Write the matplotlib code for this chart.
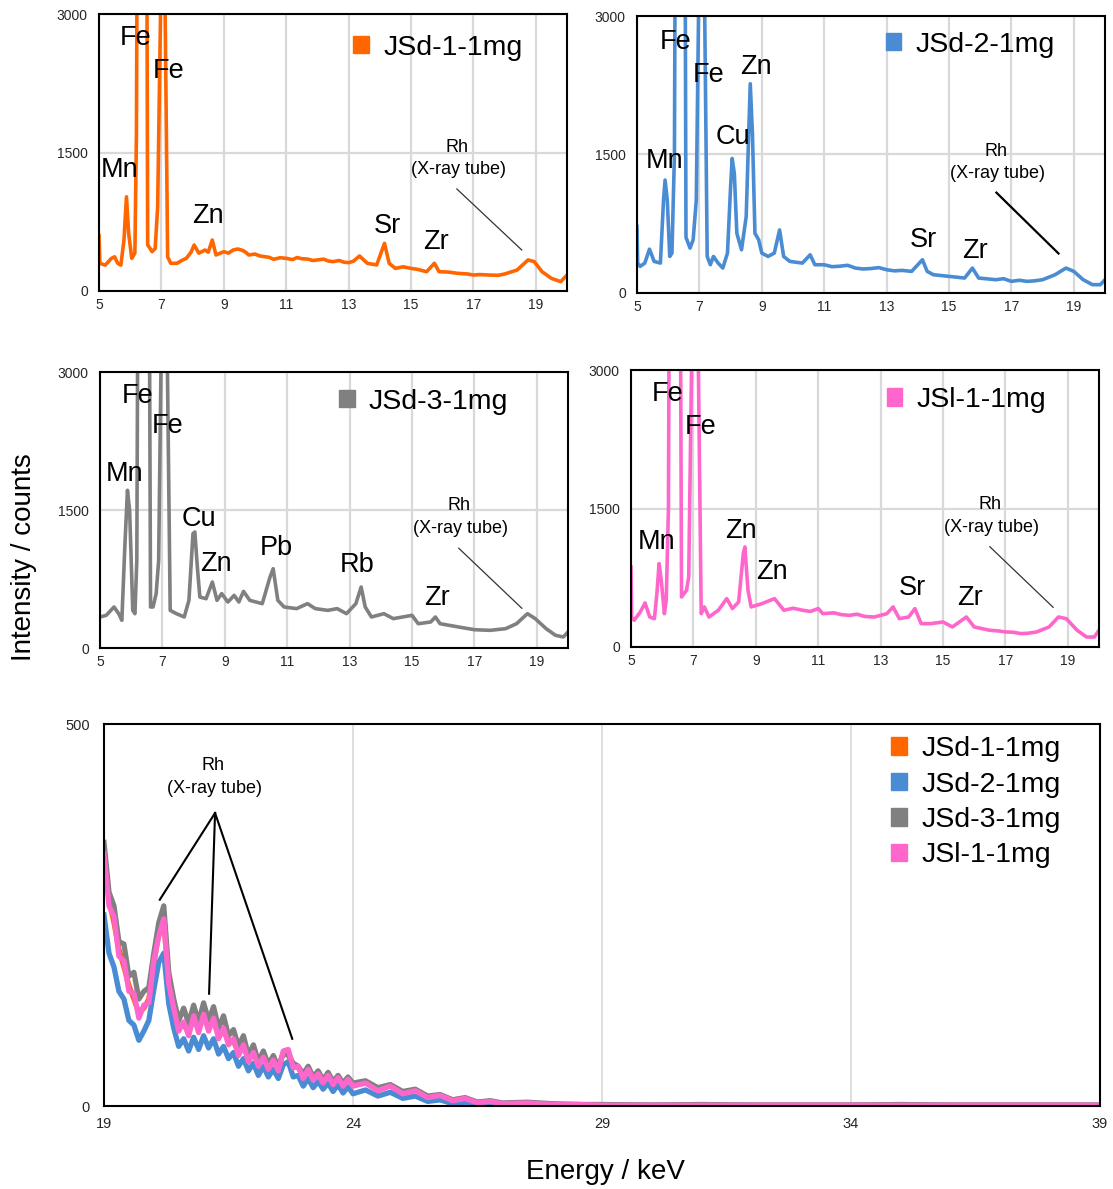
import matplotlib.pyplot as plt
from matplotlib.patches import Patch

plt.rcParams['font.family'] = ['Liberation Sans', 'DejaVu Sans']

# XRF spectra, 5-20 keV (counts)
e_jsd1 = [5.0, 5.03, 5.2, 5.4, 5.5, 5.6, 5.7, 5.8, 5.88, 5.95,
          6.05, 6.15, 6.2, 6.4, 6.56, 6.6, 6.7, 6.8, 6.88, 7.06,
          7.2, 7.3, 7.5, 7.65, 7.8, 7.95, 8.05, 8.2, 8.4, 8.5,
          8.63, 8.75, 9.0, 9.15, 9.3, 9.45, 9.6, 9.7, 9.8, 10.0,
          10.15, 10.3, 10.45, 10.6, 10.8, 11.0, 11.2, 11.35, 11.5, 11.7,
          11.85, 12.0, 12.2, 12.35, 12.5, 12.7, 12.85, 13.0, 13.15, 13.35,
          13.6, 13.9, 14.15, 14.3, 14.5, 14.75, 15.0, 15.2, 15.5, 15.75,
          15.9, 16.2, 16.5, 16.8, 17.0, 17.2, 17.5, 17.8, 18.0, 18.4,
          18.75, 18.95, 19.2, 19.5, 19.8, 20.0]
c_jsd1 = [600, 300, 280, 354, 370, 300, 280, 550, 1020, 625,
          354, 410, 1700, 20000, 500, 480, 426, 460, 910, 5000,
          370, 300, 300, 330, 354, 420, 498, 410, 444, 420,
          552, 390, 426, 410, 444, 455, 440, 420, 390, 400,
          380, 372, 365, 343, 360, 354, 340, 362, 350, 345,
          330, 336, 345, 325, 318, 330, 312, 307, 322, 379,
          300, 282, 516, 300, 245, 262, 245, 235, 209, 300,
          209, 205, 191, 185, 173, 178, 173, 170, 184, 227,
          336, 318, 209, 137, 101, 173]

e_jsd2 = [5.0, 5.02, 5.1, 5.25, 5.4, 5.55, 5.75, 5.85, 5.9, 5.97, 6.05, 6.12, 6.2, 6.4, 6.57,
          6.6, 6.7, 6.8, 6.9, 7.08, 7.25, 7.35, 7.45, 7.6, 7.75, 7.9, 8.0, 8.05, 8.12, 8.2,
          8.35, 8.5, 8.58, 8.63, 8.7, 8.78, 8.9, 9.0, 9.2, 9.4, 9.57, 9.7, 9.9, 10.3, 10.55,
          10.7, 11.0, 11.25, 11.5, 11.75, 12.0, 12.25, 12.5, 12.75, 13.0, 13.25, 13.5, 13.8,
          14.15, 14.3, 14.5, 15.0, 15.5, 15.75, 15.95, 16.5, 16.75, 17.0, 17.25, 17.5, 17.75,
          18.0, 18.4, 18.75, 19.0, 19.3, 19.6, 19.85, 20.0]
c_jsd2 = [720, 324, 288, 324, 475, 342, 324, 1007, 1223, 1007, 396, 432, 1500, 20000, 600,
          576, 486, 576, 1007, 6000, 396, 306, 396, 324, 270, 432, 1151, 1457, 1295, 647,
          468, 827, 1727, 2266, 1727, 647, 576, 432, 396, 432, 683, 396, 342, 324, 414,
          306, 306, 285, 290, 300, 270, 260, 265, 275, 252, 240, 245, 234,
          360, 234, 198, 180, 162, 270, 162, 144, 155, 126, 138, 126, 132,
          144, 198, 270, 234, 144, 90, 90, 144]

e_jsd3 = [5.0, 5.2, 5.45, 5.6, 5.7, 5.8, 5.88, 5.95, 6.05, 6.12, 6.18, 6.4, 6.62, 6.7, 6.8,
          6.88, 7.06, 7.25, 7.45, 7.7, 7.85, 7.98, 8.04, 8.12, 8.2, 8.4, 8.6, 8.75, 8.9, 9.1,
          9.3, 9.45, 9.6, 9.8, 10.2, 10.45, 10.55, 10.7, 10.9, 11.3, 11.65, 11.9, 12.3, 12.6,
          12.9, 13.2, 13.37, 13.5, 13.7, 14.1, 14.4, 15.0, 15.2, 15.6, 15.75, 15.9, 16.5,
          17.0, 17.5, 18.0, 18.35, 18.7, 18.95, 19.3, 19.6, 19.85, 20.0]
c_jsd3 = [337, 355, 446, 373, 301, 1134, 1714, 1496, 409, 373, 953, 20000, 446, 446, 591,
          953, 6000, 409, 373, 337, 518, 1243, 1261, 880, 554, 536, 717, 518, 591, 500,
          572, 500, 616, 518, 482, 772, 862, 518, 446, 428, 482, 428, 409, 428,
          373, 482, 663, 446, 337, 373, 319, 355, 264, 283, 337, 264, 228,
          199, 192, 210, 264, 373, 319, 210, 138, 120, 174]

e_jsl1 = [5.0, 5.02, 5.1, 5.3, 5.45, 5.6, 5.75, 5.83, 5.9, 5.97, 6.07, 6.13, 6.2, 6.4, 6.62,
          6.78, 6.85, 7.06, 7.25, 7.35, 7.5, 7.8, 8.07, 8.25, 8.45, 8.6, 8.65, 8.75, 8.85,
          9.2, 9.6, 9.9, 10.2, 10.5, 10.75, 11.0, 11.15, 11.5, 11.75, 12.0, 12.25, 12.5, 12.8,
          13.2, 13.4, 13.6, 13.9, 14.1, 14.3, 14.6, 15.0, 15.3, 15.75, 16.0, 16.5, 16.75,
          17.0, 17.25, 17.5, 17.75, 18.0, 18.4, 18.7, 18.95, 19.3, 19.6, 19.85, 20.0]
c_jsl1 = [867, 325, 289, 380, 477, 325, 307, 578, 903, 723, 361, 506, 1500, 20000, 542,
          614, 759, 6000, 361, 434, 325, 398, 524, 416, 488, 1012, 1084, 614, 434,
          470, 524, 398, 420, 398, 385, 416, 361, 370, 350, 343, 355, 330, 325,
          361, 434, 307, 325, 416, 253, 253, 271, 217, 325, 217, 181, 175,
          163, 160, 145, 150, 163, 217, 325, 307, 181, 108, 108, 181]

# XRF spectra, 19-39 keV (counts)
e_high = [19.0, 19.1, 19.2, 19.3, 19.4, 19.5, 19.6, 19.7, 19.8, 19.9,
          20.0, 20.1, 20.2, 20.3, 20.4, 20.5, 20.6, 20.7, 20.8, 20.9,
          21.0, 21.1, 21.2, 21.3, 21.4, 21.5, 21.6, 21.7, 21.8, 21.9,
          22.0, 22.1, 22.2, 22.3, 22.4, 22.5, 22.6, 22.7, 22.8, 22.9,
          23.0, 23.1, 23.2, 23.3, 23.4, 23.5, 23.6, 23.7, 23.8, 23.9,
          24.0, 24.25, 24.5, 24.75, 25.0, 25.25, 25.5, 25.75, 26.0, 26.25,
          26.5, 26.75, 27.0, 27.5, 28.0, 28.5, 29.0,
          30, 31, 32, 33, 34, 35, 36, 37, 38, 39]
h_jsd1 = [335, 270, 240, 205, 182, 158, 140, 122, 128, 140,
          185, 228, 240, 165, 122, 104, 106, 98, 114, 104,
          116, 104, 110, 94, 98, 86, 84, 72, 76, 64,
          66, 58, 62, 56, 56, 52, 68, 70, 54, 50,
          40, 46, 38, 40, 34, 38, 31, 35, 29, 33,
          29, 32, 22, 27, 18, 21, 12, 14, 8, 10,
          5, 6, 3, 4, 2, 2, 1,
          1, 1, 1, 1, 1, 1, 1, 1, 1, 1]
h_jsd2 = [250, 200, 182, 150, 140, 112, 106, 86, 98, 112,
          152, 188, 200, 134, 102, 78, 88, 72, 90, 74,
          92, 76, 88, 68, 78, 62, 70, 52, 62, 46,
          56, 40, 52, 38, 48, 36, 54, 58, 38, 40,
          26, 36, 24, 32, 22, 30, 19, 28, 17, 25,
          16, 21, 13, 18, 10, 13, 6, 8, 3, 5,
          2, 3, 1, 2, 1, 1, 1,
          1, 1, 1, 1, 1, 1, 1, 1, 1, 1]
h_jsd3 = [345, 280, 262, 215, 212, 170, 175, 140, 150, 155,
          200, 240, 262, 175, 140, 112, 128, 108, 132, 110,
          135, 112, 130, 102, 118, 92, 100, 78, 92, 66,
          80, 58, 72, 54, 66, 50, 70, 66, 56, 52,
          42, 52, 38, 46, 34, 44, 32, 40, 30, 38,
          30, 33, 24, 28, 19, 22, 13, 15, 8, 11,
          5, 7, 4, 5, 3, 2, 2,
          1, 2, 1, 1, 1, 2, 1, 1, 1, 1]
h_jsl1 = [330, 262, 248, 196, 190, 150, 148, 115, 132, 135,
          190, 222, 245, 160, 128, 98, 110, 92, 118, 96,
          120, 98, 115, 88, 102, 80, 88, 66, 80, 58,
          70, 52, 64, 48, 60, 46, 72, 74, 50, 52,
          36, 48, 34, 42, 30, 40, 28, 37, 26, 35,
          26, 30, 20, 26, 16, 20, 11, 14, 7, 10,
          4, 6, 3, 4, 2, 2, 1,
          1, 1, 1, 1, 1, 1, 1, 1, 1, 1]

names = ['JSd-1-1mg', 'JSd-2-1mg', 'JSd-3-1mg', 'JSl-1-1mg']
colors = ['#FF6600', '#4A8CD4', '#808080', '#FF66CC']

# peak labels: (text, energy, counts at baseline)
labels_jsd1 = [('Fe', 6.18, 2664), ('Fe', 7.24, 2307), ('Mn', 5.67, 1238),
               ('Zn', 8.5, 736), ('Sr', 14.23, 628), ('Zr', 15.8, 455)]
labels_jsd2 = [('Fe', 6.23, 2643), ('Fe', 7.28, 2280), ('Zn', 8.8, 2377), ('Cu', 8.09, 1615),
               ('Mn', 5.87, 1356), ('Sr', 14.18, 500), ('Zr', 15.83, 374)]
labels_jsd3 = [('Fe', 6.21, 2660), ('Fe', 7.18, 2334), ('Mn', 5.8, 1819), ('Cu', 8.17, 1329),
               ('Zn', 8.72, 837), ('Pb', 10.65, 1011), ('Rb', 13.23, 826), ('Zr', 15.8, 467)]
labels_jsl1 = [('Fe', 6.17, 2667), ('Fe', 7.24, 2307), ('Mn', 5.83, 1058), ('Zn', 8.53, 1184),
               ('Zn', 9.52, 733), ('Sr', 14.02, 563), ('Zr', 15.86, 455)]

W, H = 1113, 1189
fig = plt.figure(figsize=(W / 100, H / 100), dpi=100)


def px_axes(left, top, right, bottom):
    return fig.add_axes([left / W, 1 - bottom / H, (right - left) / W, (bottom - top) / H])


def style(ax, lw_grid):
    ax.grid(True, color='#D9D9D9', lw=lw_grid)
    ax.set_axisbelow(True)
    for s in ax.spines.values():
        s.set_color('black')
        s.set_linewidth(1.5)
        s.set_zorder(5)


def small_panel(box, e, c, color, name, labels, rh, rh_line, leg_xy, lw_rh):
    ax = px_axes(*box)
    ax.plot(e, c, color=color, lw=2.6, solid_joinstyle='round')
    ax.set_xlim(5, 20)
    ax.set_ylim(0, 3000)
    ax.set_xticks(range(5, 20, 2))
    ax.set_yticks([0, 1500, 3000])
    ax.tick_params(length=0, labelsize=10, colors='#262626')
    ax.tick_params(axis='y', pad=8)
    ax.tick_params(axis='x', pad=5)
    style(ax, 1.6)
    for t, x, y in labels:
        ax.text(x, y, t, ha='center', va='baseline', fontsize=19.5)
    ax.text(rh[0], rh[1], 'Rh', ha='center', va='baseline', fontsize=13)
    ax.text(rh[0] + 0.03, rh[2], '(X-ray tube)', ha='center', va='baseline', fontsize=13)
    ax.plot(rh_line[0], rh_line[1], color='#333333' if lw_rh < 1.2 else 'black', lw=lw_rh)
    ax.legend(handles=[Patch(color=color, label=name)], loc='center left',
              bbox_to_anchor=leg_xy, frameon=False, fontsize=20.5,
              handlelength=0.56, handleheight=0.56, handletextpad=0.5,
              borderpad=0, borderaxespad=0)
    return ax


small_panel((99, 14, 567, 291), e_jsd1, c_jsd1, colors[0], names[0], labels_jsd1,
            (16.48, 1509, 1267), ([16.47, 18.55], [1105, 444]), (0.543, 0.878), 0.9)
small_panel((637, 16, 1105, 293), e_jsd2, c_jsd2, colors[1], names[1], labels_jsd2,
            (16.52, 1489, 1248), ([16.52, 18.51], [1087, 428]), (0.531, 0.896), 1.6)
small_panel((100, 372, 568, 648), e_jsd3, c_jsd3, colors[2], names[2], labels_jsd3,
            (16.51, 1500, 1247), ([16.5, 18.52], [1084, 432]), (0.510, 0.892), 0.9)
small_panel((631, 370, 1099, 647), e_jsl1, c_jsl1, colors[3], names[3], labels_jsl1,
            (16.51, 1491, 1249), ([16.5, 18.53], [1086, 430]), (0.546, 0.892), 0.9)

# 19-39 keV overlay
ax = px_axes(104, 724, 1100, 1106)
for h, col in zip([h_jsd1, h_jsd2, h_jsd3, h_jsl1], colors):
    ax.plot(e_high, h, color=col, lw=3.8, solid_joinstyle='round')
ax.set_xlim(19, 39)
ax.set_ylim(0, 500)
ax.set_xticks(range(19, 40, 5))
ax.set_yticks([0, 500])
ax.tick_params(length=0, labelsize=10.5, colors='#262626')
ax.tick_params(axis='y', pad=10)
ax.tick_params(axis='x', pad=8)
style(ax, 1.2)
ax.yaxis.grid(False)
ax.text(21.19, 440, 'Rh', ha='center', va='baseline', fontsize=13)
ax.text(21.21, 410, '(X-ray tube)', ha='center', va='baseline', fontsize=13)
apex = (21.23, 383.5)
for x_end, y_end in [(20.12, 270), (21.11, 147), (22.78, 88)]:
    ax.plot([apex[0], x_end], [apex[1], y_end], color='black', lw=1.5)
ax.legend(handles=[Patch(color=col, label=n) for col, n in zip(colors, names)],
          loc='center left', bbox_to_anchor=(0.790, 0.795), frameon=False, fontsize=20.5,
          handlelength=0.56, handleheight=0.56, handletextpad=0.5, labelspacing=0.33,
          borderpad=0, borderaxespad=0)

fig.text(24 / W, 1 - 557 / H, 'Intensity / counts', rotation=90, ha='center', va='center',
         fontsize=20)
fig.text(605 / W, 1 - 1172 / H, 'Energy / keV', ha='center', va='center', fontsize=20)

fig.savefig('out.png', dpi=100)
